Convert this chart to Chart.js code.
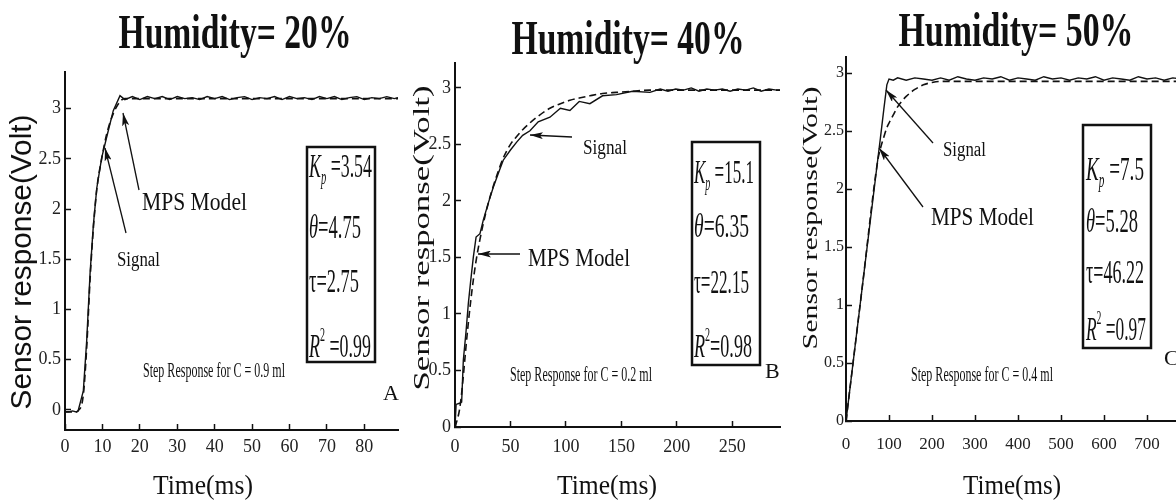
<!DOCTYPE html>
<html>
<head>
<meta charset="utf-8">
<script src="https://cdn.jsdelivr.net/npm/chart.js@4.4.1/dist/chart.umd.min.js"></script>
<style>
  html, body { margin: 0; padding: 0; background: #fff; }
  body { width: 1176px; height: 504px; overflow: hidden; position: relative; }
  canvas { position: absolute; }
  svg { position: absolute; left: 0; top: 0; pointer-events: none; }
  svg text { font-family: "Liberation Serif", "Times New Roman", serif; fill: #111; }
</style>
</head>
<body>
<canvas id="chartA"></canvas>
<canvas id="chartB"></canvas>
<canvas id="chartC"></canvas>

<svg width="1176" height="504" xmlns="http://www.w3.org/2000/svg">
  <defs>
    <marker id="head" markerWidth="13" markerHeight="7" refX="13" refY="3.5" orient="auto" markerUnits="userSpaceOnUse">
      <path d="M0,0 L13,3.5 L0,7 L3,3.5 z" fill="#111"/>
    </marker>
  </defs>

  <!-- titles -->
  <text x="235" y="48" text-anchor="middle" font-size="48" font-weight="bold" textLength="233" lengthAdjust="spacingAndGlyphs">Humidity= 20%</text>
  <text x="628" y="54" text-anchor="middle" font-size="48" font-weight="bold" textLength="233" lengthAdjust="spacingAndGlyphs">Humidity= 40%</text>
  <text x="1016" y="46" text-anchor="middle" font-size="48" font-weight="bold" textLength="235" lengthAdjust="spacingAndGlyphs">Humidity= 50%</text>

  <!-- axis titles -->
  <text transform="translate(31,262) rotate(-90)" text-anchor="middle" style="font-family:'Liberation Sans',Arial,sans-serif" font-size="29" textLength="295" lengthAdjust="spacingAndGlyphs">Sensor response(Volt)</text>
  <text transform="translate(429,238) rotate(-90)" text-anchor="middle" font-size="23" textLength="305" lengthAdjust="spacingAndGlyphs">Sensor response(Volt)</text>
  <text transform="translate(817,218) rotate(-90)" text-anchor="middle" font-size="21" textLength="263" lengthAdjust="spacingAndGlyphs">Sensor response(Volt)</text>
  <text x="203" y="494" text-anchor="middle" font-size="28" textLength="100" lengthAdjust="spacingAndGlyphs">Time(ms)</text>
  <text x="607" y="494" text-anchor="middle" font-size="28" textLength="100" lengthAdjust="spacingAndGlyphs">Time(ms)</text>
  <text x="1012" y="494" text-anchor="middle" font-size="28" textLength="98" lengthAdjust="spacingAndGlyphs">Time(ms)</text>

  <!-- parameter boxes -->
  <rect x="307" y="147" width="68" height="215" fill="none" stroke="#111" stroke-width="2.5"/>
  <text x="309" y="177" font-size="34" textLength="63" lengthAdjust="spacingAndGlyphs"><tspan font-style="italic">K</tspan><tspan font-size="20" dy="7" font-style="italic">p</tspan><tspan dy="-7"> =3.54</tspan></text>
  <text x="309" y="238" font-size="34" textLength="52" lengthAdjust="spacingAndGlyphs"><tspan font-style="italic">θ</tspan>=4.75</text>
  <text x="309" y="292" font-size="34" textLength="50" lengthAdjust="spacingAndGlyphs">τ=2.75</text>
  <text x="309" y="357" font-size="34" textLength="62" lengthAdjust="spacingAndGlyphs"><tspan font-style="italic">R</tspan><tspan font-size="19" dy="-16">2</tspan><tspan dy="16"> =0.99</tspan></text>

  <rect x="692" y="142" width="68" height="223" fill="none" stroke="#111" stroke-width="2.5"/>
  <text x="694" y="183" font-size="34" textLength="60" lengthAdjust="spacingAndGlyphs"><tspan font-style="italic">K</tspan><tspan font-size="20" dy="7" font-style="italic">p</tspan><tspan dy="-7"> =15.1</tspan></text>
  <text x="694" y="237" font-size="34" textLength="55" lengthAdjust="spacingAndGlyphs"><tspan font-style="italic">θ</tspan>=6.35</text>
  <text x="694" y="293" font-size="34" textLength="55" lengthAdjust="spacingAndGlyphs">τ=22.15</text>
  <text x="694" y="357" font-size="34" textLength="58" lengthAdjust="spacingAndGlyphs"><tspan font-style="italic">R</tspan><tspan font-size="19" dy="-16">2</tspan><tspan dy="16">=0.98</tspan></text>

  <rect x="1083" y="125" width="68" height="223" fill="none" stroke="#111" stroke-width="2.5"/>
  <text x="1086" y="180" font-size="34" textLength="58" lengthAdjust="spacingAndGlyphs"><tspan font-style="italic">K</tspan><tspan font-size="20" dy="7" font-style="italic">p</tspan><tspan dy="-7"> =7.5</tspan></text>
  <text x="1086" y="232" font-size="34" textLength="52" lengthAdjust="spacingAndGlyphs"><tspan font-style="italic">θ</tspan>=5.28</text>
  <text x="1086" y="283" font-size="34" textLength="58" lengthAdjust="spacingAndGlyphs">τ=46.22</text>
  <text x="1086" y="340" font-size="34" textLength="60" lengthAdjust="spacingAndGlyphs"><tspan font-style="italic">R</tspan><tspan font-size="19" dy="-16">2</tspan><tspan dy="16"> =0.97</tspan></text>

  <!-- captions -->
  <text x="214" y="377" text-anchor="middle" font-size="22" textLength="142" lengthAdjust="spacingAndGlyphs">Step Response for C = 0.9 ml</text>
  <text x="581" y="381" text-anchor="middle" font-size="22" textLength="142" lengthAdjust="spacingAndGlyphs">Step Response for C = 0.2 ml</text>
  <text x="982" y="381" text-anchor="middle" font-size="22" textLength="142" lengthAdjust="spacingAndGlyphs">Step Response for C = 0.4 ml</text>
  <text x="383" y="400" font-size="22">A</text>
  <text x="765" y="378" font-size="22">B</text>
  <text x="1164" y="365" font-size="22">C</text>

  <!-- curve labels and arrows -->
  <text x="142" y="210" font-size="26" textLength="105" lengthAdjust="spacingAndGlyphs">MPS Model</text>
  <text x="117" y="266" font-size="20" textLength="43" lengthAdjust="spacingAndGlyphs">Signal</text>
  <text x="583" y="154" font-size="20" textLength="44" lengthAdjust="spacingAndGlyphs">Signal</text>
  <text x="528" y="266" font-size="26" textLength="102" lengthAdjust="spacingAndGlyphs">MPS Model</text>
  <text x="943" y="156" font-size="20" textLength="43" lengthAdjust="spacingAndGlyphs">Signal</text>
  <text x="931" y="225" font-size="26" textLength="103" lengthAdjust="spacingAndGlyphs">MPS Model</text>
  <g stroke="#111" stroke-width="1.3" marker-end="url(#head)">
    <line x1="139" y1="190" x2="123" y2="113"/>
    <line x1="126" y1="233" x2="105" y2="148"/>
    <line x1="572" y1="137" x2="530" y2="135"/>
    <line x1="520" y1="254" x2="478" y2="254"/>
    <line x1="933" y1="143" x2="886" y2="90"/>
    <line x1="923" y1="207" x2="879" y2="148"/>
  </g>
</svg>

<script>
// Humidity 20% (panel A)
const timeA = [0, 1, 2, 3, 3.5, 4.9, 5.8, 6.7, 7.6, 8.5, 9.8, 11.1, 12.9, 14.7, 16,
  18, 20, 22, 24, 26, 28, 30, 32, 34, 36, 38, 40,
  42, 44, 46, 48, 50, 52, 54, 56, 58, 60, 62, 64,
  66, 68, 70, 72, 74, 76, 78, 80, 82, 84, 86, 88, 89];
const signalA = [-0.02, -0.02, -0.01, -0.02, -0.01, 0.19, 0.69, 1.36, 1.85, 2.21, 2.51, 2.71, 2.98, 3.13, 3.09,
  3.12, 3.09, 3.12, 3.10, 3.12, 3.09, 3.12, 3.10, 3.11, 3.09, 3.12, 3.10,
  3.12, 3.09, 3.11, 3.12, 3.09, 3.11, 3.10, 3.12, 3.09, 3.12, 3.10, 3.11,
  3.09, 3.12, 3.10, 3.12, 3.09, 3.11, 3.12, 3.09, 3.11, 3.10, 3.12, 3.10, 3.11];
const modelA = [-0.02, -0.02, -0.02, -0.02, -0.01, 0.15, 0.62, 1.30, 1.82, 2.20, 2.50, 2.74, 2.95, 3.07, 3.10,
  3.10, 3.10, 3.10, 3.10, 3.10, 3.10, 3.10, 3.10, 3.10, 3.10, 3.10, 3.10,
  3.10, 3.10, 3.10, 3.10, 3.10, 3.10, 3.10, 3.10, 3.10, 3.10, 3.10, 3.10,
  3.10, 3.10, 3.10, 3.10, 3.10, 3.10, 3.10, 3.10, 3.10, 3.10, 3.10, 3.10, 3.10];
const xTicksA = [0, 10, 20, 30, 40, 50, 60, 70, 80];
const yTicksA = [0, 0.5, 1, 1.5, 2, 2.5, 3];

// Humidity 40% (panel B)
const timeB = [0, 1, 4, 6, 7.5, 10, 12, 14, 16.5, 19, 22.5, 25.5, 30, 34.5, 40,
  43.5, 50, 55.6, 61, 67.6, 75, 85.6, 95, 103.6, 112, 121.6, 133, 145.6, 160, 175.7,
  185, 192, 199, 206, 213, 220, 227, 234, 241, 248, 255, 262, 269, 276, 283, 290, 293];
const signalB = [0, 0.20, 0.21, 0.22, 0.59, 0.85, 1.09, 1.28, 1.50, 1.68, 1.71, 1.83, 1.98, 2.12, 2.27,
  2.36, 2.45, 2.52, 2.58, 2.62, 2.70, 2.74, 2.82, 2.80, 2.88, 2.86, 2.93, 2.94, 2.97, 2.96,
  2.99, 2.97, 2.99, 2.98, 3.00, 2.97, 2.99, 2.98, 2.99, 2.97, 2.99, 2.98, 3.00, 2.97, 2.99, 2.98, 2.98];
const modelB = [0, 0.03, 0.15, 0.30, 0.45, 0.72, 0.92, 1.10, 1.30, 1.47, 1.66, 1.80, 1.98, 2.13, 2.29,
  2.38, 2.50, 2.57, 2.63, 2.69, 2.75, 2.82, 2.86, 2.89, 2.91, 2.93, 2.95, 2.96, 2.97, 2.98,
  2.98, 2.98, 2.98, 2.98, 2.98, 2.98, 2.98, 2.98, 2.98, 2.98, 2.98, 2.98, 2.98, 2.98, 2.98, 2.98, 2.98];
const xTicksB = [0, 50, 100, 150, 200, 250];
const yTicksB = [0, 0.5, 1, 1.5, 2, 2.5, 3];

// Humidity 50% (panel C)
const timeC = [0, 37, 74, 80, 88, 95, 100, 110, 120, 140, 160, 180, 200,
  220, 240, 260, 280, 300, 320, 340, 360, 380, 400, 420, 440, 460, 480, 500,
  520, 540, 560, 580, 600, 620, 640, 660, 680, 700, 720, 740, 760, 780, 800];
const signalC = [0, 1.13, 2.26, 2.44, 2.69, 2.90, 2.95, 2.94, 2.96, 2.94, 2.96, 2.95, 2.94,
  2.96, 2.94, 2.97, 2.95, 2.94, 2.96, 2.95, 2.97, 2.94, 2.96, 2.95, 2.94, 2.97, 2.95, 2.96,
  2.94, 2.96, 2.95, 2.97, 2.94, 2.96, 2.95, 2.94, 2.97, 2.95, 2.96, 2.94, 2.96, 2.95, 2.96];
const modelC = [0, 1.13, 2.25, 2.35, 2.45, 2.53, 2.57, 2.64, 2.71, 2.80, 2.86, 2.90, 2.92,
  2.93, 2.93, 2.93, 2.93, 2.93, 2.93, 2.93, 2.93, 2.93, 2.93, 2.93, 2.93, 2.93, 2.93, 2.93,
  2.93, 2.93, 2.93, 2.93, 2.93, 2.93, 2.93, 2.93, 2.93, 2.93, 2.93, 2.93, 2.93, 2.93, 2.93];
const xTicksC = [0, 100, 200, 300, 400, 500, 600, 700];
const yTicksC = [0, 0.5, 1, 1.5, 2, 2.5, 3];

const INK = '#111';
const SERIF = "'Liberation Serif', 'Times New Roman', serif";
const Y_W = 60, X_H = 50, PAD_T = 8, PAD_R = 8;

function points(times, values) {
    return times.map((t, i) => ({ x: t, y: values[i] }));
}

function makePanel(id, area, range, ticks, look, times, signal, model) {
    const canvas = document.getElementById(id);
    canvas.width = area.right - area.left + Y_W + PAD_R;
    canvas.height = area.bottom - area.top + PAD_T + X_H;
    canvas.style.left = (area.left - Y_W) + 'px';
    canvas.style.top = (area.top - PAD_T) + 'px';

    const axisBase = {
        type: 'linear',
        grid: { drawOnChartArea: false, tickLength: -6, tickColor: INK, tickWidth: 1.5 },
        border: { color: INK, width: 2 }
    };

    return new Chart(canvas, {
        type: 'line',
        data: {
            datasets: [
                {
                    label: 'Signal',
                    data: points(times, signal),
                    borderColor: INK,
                    borderWidth: 1.4,
                    tension: 0,
                    pointRadius: 0,
                    fill: false
                },
                {
                    label: 'MPS Model',
                    data: points(times, model),
                    borderColor: INK,
                    borderWidth: 1.6,
                    borderDash: [7, 4],
                    cubicInterpolationMode: 'monotone',
                    pointRadius: 0,
                    fill: false
                }
            ]
        },
        options: {
            responsive: false,
            animation: false,
            devicePixelRatio: 1,
            layout: { padding: { top: PAD_T, right: PAD_R, left: 0, bottom: 0 } },
            plugins: { legend: { display: false }, tooltip: { enabled: false } },
            scales: {
                x: {
                    ...axisBase,
                    min: range.x[0],
                    max: range.x[1],
                    afterBuildTicks: s => { s.ticks = ticks.x.map(v => ({ value: v })); },
                    afterFit: s => { s.height = X_H; s.paddingLeft = 0; s.paddingRight = 0; },
                    ticks: {
                        autoSkip: false,
                        maxRotation: 0,
                        padding: look.xPad,
                        color: '#222',
                        font: { family: SERIF, size: look.xSize },
                        callback: v => String(v)
                    }
                },
                y: {
                    ...axisBase,
                    min: range.y[0],
                    max: range.y[1],
                    afterBuildTicks: s => { s.ticks = ticks.y.map(v => ({ value: v })); },
                    afterFit: s => { s.width = Y_W; s.paddingTop = 0; s.paddingBottom = 0; },
                    ticks: {
                        autoSkip: false,
                        padding: look.yPad,
                        color: '#222',
                        font: { family: SERIF, size: look.ySize },
                        callback: v => String(v)
                    }
                }
            }
        }
    });
}

makePanel('chartA',
    { left: 65, right: 398, top: 72, bottom: 430 },
    { x: [0, 89], y: [-0.2, 3.365] },
    { x: xTicksA, y: yTicksA },
    { xPad: 12, xSize: 18, yPad: 10, ySize: 18 },
    timeA, signalA, modelA);

makePanel('chartB',
    { left: 455, right: 780, top: 63, bottom: 427 },
    { x: [0, 293], y: [0, 3.22] },
    { x: xTicksB, y: yTicksB },
    { xPad: 15, xSize: 18, yPad: 10, ySize: 18 },
    timeB, signalB, modelB);

makePanel('chartC',
    { left: 846, right: 1190, top: 57, bottom: 421 },
    { x: [0, 800], y: [0, 3.14] },
    { x: xTicksC, y: yTicksC },
    { xPad: 19, xSize: 17, yPad: 8, ySize: 16 },
    timeC, signalC, modelC);
</script>
</body>
</html>
